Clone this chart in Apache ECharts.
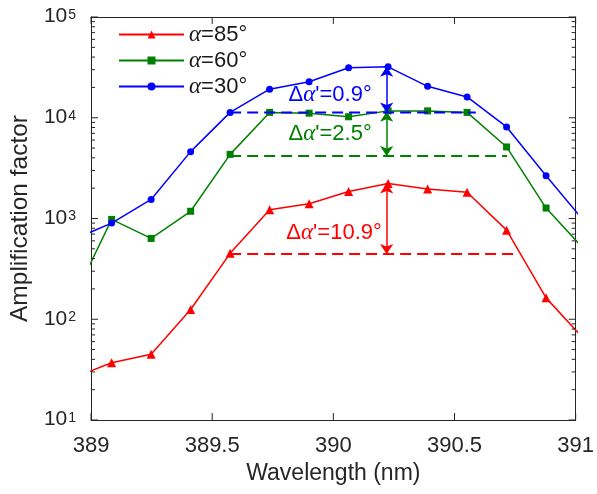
<!DOCTYPE html>
<html>
<head>
<meta charset="utf-8">
<script src="https://cdn.jsdelivr.net/npm/echarts@6/dist/echarts.min.js"></script>
<style>
html,body{margin:0;padding:0;background:#fff;}
#chart{width:597px;height:494px;}
</style>
</head>
<body>
<div id="chart"></div>
<script>
// ---- data ----
const wavelengths = [388.922, 389.085, 389.248, 389.411, 389.574, 389.737, 389.900, 390.063, 390.226, 390.389, 390.552, 390.715, 390.878, 391.041];
const amp85 = [26, 37, 45, 125, 451, 1220, 1400, 1850, 2230, 1960, 1820, 766, 163, 61];
const amp60 = [150, 980, 634, 1180, 4330, 11300, 11100, 10230, 11700, 11700, 11300, 5130, 1270, 478];
const amp30 = [612, 900, 1545, 4610, 11300, 19200, 22800, 31300, 32000, 20500, 16100, 8110, 2660, 904];
const seriesNames = ['α=85°', 'α=60°', 'α=30°'];
const seriesColors = ['#ff0000', '#008000', '#0000ff'];
const seriesSymbols = ['triangle', 'rect', 'circle'];
const symbolSizes = [9, 7, 7];

// reference levels (dashed), arrows and annotations: order 85, 60, 30
const dashStart = 389.574;
const dashEnds = [390.758, 390.717, 390.588];
const dashLevels = [445, 4180, 11300];
const arrowX = 390.22;
const arrowTops = [2230, 11500, 32000];
const arrowBottoms = [445, 4180, 11300];
const deltaLabels = ['10.9', '2.5', '0.9'];
const labelX = [389.806, 389.815, 389.815];
const labelY = [713, 6920, 16900];

const xTicks = [389, 389.5, 390, 390.5, 391];
const yMajorTicks = [10, 100, 1000, 10000, 100000];
const yMinorTicks = [20,30,40,50,60,70,80,90,200,300,400,500,600,700,800,900,2000,3000,4000,5000,6000,7000,8000,9000,20000,30000,40000,50000,60000,70000,80000,90000];

const FONT = 'Arial, "Liberation Sans", Helvetica, sans-serif';
const SERIF = '"Liberation Serif", "Times New Roman", serif';
const AXIS_COLOR = '#262626';

const chart = echarts.init(document.getElementById('chart'), null, {renderer: 'canvas'});

const mainSeries = [amp85, amp60, amp30].map(function (vals, i) {
  return {
    name: seriesNames[i],
    type: 'line',
    xAxisIndex: 0, yAxisIndex: 0,
    data: wavelengths.map(function (w, k) { return [w, vals[k]]; }),
    symbol: seriesSymbols[i],
    symbolSize: symbolSizes[i],
    showAllSymbol: true,
    clip: true,
    z: 3 + i,
    lineStyle: {color: seriesColors[i], width: 1.5},
    itemStyle: {color: seriesColors[i]},
    emphasis: {disabled: true},
    markLine: {
      silent: true,
      animation: false,
      symbol: ['arrow', 'arrow'],
      symbolSize: 10,
      lineStyle: {color: seriesColors[i], width: 1.5, type: 'solid'},
      label: {show: false},
      emphasis: {disabled: true},
      data: [[{coord: [arrowX, arrowTops[i]]}, {coord: [arrowX, arrowBottoms[i]]}]]
    },
    markPoint: {
      silent: true,
      animation: false,
      symbol: 'circle',
      symbolSize: 0,
      data: [{
        coord: [labelX[i], labelY[i]],
        label: {
          show: true,
          position: 'right',
          distance: 0,
          formatter: '{d|Δ}{a|α}{t|\'=' + deltaLabels[i] + '°}',
          rich: {
            d: {fontFamily: FONT, fontSize: 22, color: seriesColors[i]},
            a: {fontFamily: SERIF, fontStyle: 'italic', fontSize: 23, color: seriesColors[i]},
            t: {fontFamily: FONT, fontSize: 22, color: seriesColors[i]}
          }
        }
      }]
    }
  };
});

const dashSeries = dashLevels.map(function (lvl, i) {
  return {
    name: 'ref' + i,
    type: 'line',
    data: [[dashStart, lvl], [dashEnds[i], lvl]],
    showSymbol: false,
    silent: true,
    z: 6,
    lineStyle: {color: seriesColors[i], width: 2, type: [11, 6]},
    emphasis: {disabled: true}
  };
});

// frame ticks (inside, on all four sides), placed through the axes' own scales
const tickItems = [];
yMinorTicks.forEach(function (v) { tickItems.push(['y', 389, v, 4]); });
yMajorTicks.forEach(function (v) { tickItems.push(['y', 389, v, 7]); });
xTicks.forEach(function (x) { tickItems.push(['x', x, 10, 7]); });

const tickSeries = {
  name: 'frameTicks',
  type: 'custom',
  silent: true,
  z: 10,
  clip: false,
  encode: {x: 1, y: 2},
  dimensions: ['kind', 'x', 'y', 'len'],
  data: tickItems,
  renderItem: function (params, api) {
    const kind = api.value(0);
    const p = api.coord([api.value(1), api.value(2)]);
    const len = api.value(3);
    const cs = params.coordSys;
    const style = {stroke: AXIS_COLOR, lineWidth: 1};
    if (kind === 'y') {
      return {type: 'group', children: [
        {type: 'line', shape: {x1: cs.x, y1: p[1], x2: cs.x + len, y2: p[1]}, style: style},
        {type: 'line', shape: {x1: cs.x + cs.width - len, y1: p[1], x2: cs.x + cs.width, y2: p[1]}, style: style}
      ]};
    }
    return {type: 'group', children: [
      {type: 'line', shape: {x1: p[0], y1: cs.y + cs.height, x2: p[0], y2: cs.y + cs.height - len}, style: style},
      {type: 'line', shape: {x1: p[0], y1: cs.y, x2: p[0], y2: cs.y + len}, style: style}
    ]};
  }
};

const option = {
  animation: false,
  backgroundColor: '#ffffff',
  grid: {left: 85, right: 17, top: 13, bottom: 74, containLabel: false},
  legend: {
    data: seriesNames,
    orient: 'vertical',
    left: 113,
    top: 18,
    itemWidth: 65,
    itemHeight: 10,
    itemGap: 3,
    selectedMode: false,
    textStyle: {
      fontFamily: FONT, fontSize: 22, color: '#1a1a1a', lineHeight: 20,
      rich: {
        a: {fontFamily: SERIF, fontStyle: 'italic', fontSize: 23, color: '#1a1a1a', lineHeight: 20},
        t: {fontFamily: FONT, fontSize: 22, color: '#1a1a1a', lineHeight: 20}
      }
    },
    formatter: function (name) { return '{a|α}{t|' + name.slice(1) + '}'; }
  },
  xAxis: [{
    type: 'value',
    min: 389, max: 391, interval: 0.5,
    position: 'bottom',
    name: 'Wavelength (nm)',
    nameLocation: 'middle',
    nameGap: 42,
    nameTextStyle: {fontFamily: FONT, fontSize: 23, color: AXIS_COLOR, verticalAlign: 'top'},
    axisLine: {show: true, onZero: false, lineStyle: {color: AXIS_COLOR, width: 1}},
    axisTick: {show: false},
    axisLabel: {show: true, margin: 15, fontFamily: FONT, fontSize: 22, color: AXIS_COLOR,
      formatter: function (v) { return String(v); }},
    splitLine: {show: false}
  }, {
    type: 'value',
    min: 389, max: 391, interval: 0.5,
    position: 'top',
    axisLine: {show: true, onZero: false, lineStyle: {color: AXIS_COLOR, width: 1}},
    axisTick: {show: false},
    axisLabel: {show: false},
    splitLine: {show: false}
  }],
  yAxis: [{
    type: 'log',
    logBase: 10,
    min: 10, max: 100000,
    position: 'left',
    name: 'Amplification factor',
    nameLocation: 'middle',
    nameGap: 47,
    nameTextStyle: {fontFamily: FONT, fontSize: 24.5, color: AXIS_COLOR},
    axisLine: {show: true, onZero: false, lineStyle: {color: AXIS_COLOR, width: 1}},
    axisTick: {show: false},
    axisLabel: {
      show: true, margin: 15, color: AXIS_COLOR,
      formatter: function (v) {
        const e = Math.round(Math.log10(v));
        return '{b|10}{s|' + e + '}';
      },
      rich: {
        b: {fontFamily: FONT, fontSize: 21, lineHeight: 20, color: AXIS_COLOR, verticalAlign: 'bottom', padding: [6, 0, 0, 0]},
        s: {fontFamily: FONT, fontSize: 14, lineHeight: 12, color: AXIS_COLOR, verticalAlign: 'top', padding: [1, 0, 0, 1]}
      }
    },
    splitLine: {show: false},
    minorTick: {show: false}
  }, {
    type: 'log',
    logBase: 10,
    min: 10, max: 100000,
    position: 'right',
    axisLine: {show: true, onZero: false, lineStyle: {color: AXIS_COLOR, width: 1}},
    axisTick: {show: false},
    axisLabel: {show: false},
    splitLine: {show: false}
  }],
  series: mainSeries.concat(dashSeries).concat([tickSeries])
};

chart.setOption(option);
</script>
</body>
</html>
